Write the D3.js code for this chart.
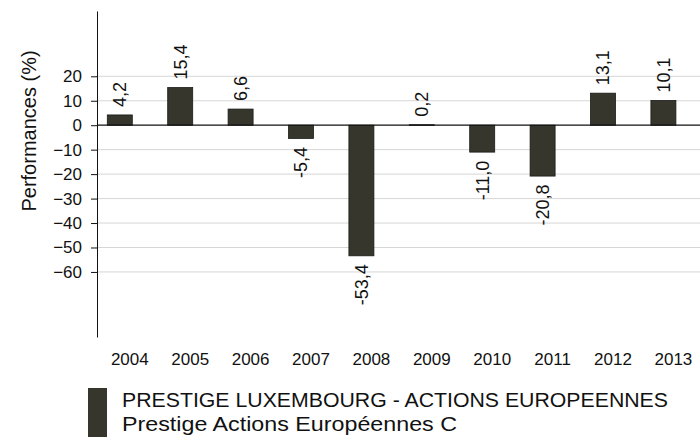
<!DOCTYPE html>
<html lang="fr">
<head>
    <meta charset="UTF-8">
    <title>Performances annuelles</title>
    <style>
        body, html {
            margin: 0;
            overflow: hidden;
            background: #fff;
        }
        svg text {
            font-family: "Liberation Sans", Arial, sans-serif;
            fill: #111;
        }
    </style>
</head>
<body>

<script src="https://d3js.org/d3.v7.min.js"></script>

<script>
    // Data
    const years = ["2004", "2005", "2006", "2007", "2008", "2009", "2010", "2011", "2012", "2013"];
    const perf = [4.2, 15.4, 6.6, -5.4, -53.4, 0.2, -11.0, -20.8, 13.1, 10.1];
    const yTicks = [20, 10, 0, -10, -20, -30, -40, -50, -60];
    const legendLines = ["PRESTIGE LUXEMBOURG - ACTIONS EUROPEENNES", "Prestige Actions Européennes C"];

    const width = 700,
        height = 441;

    const barColor = "#36362d";

    const svg = d3.create("svg")
        .attr("width", width)
        .attr("height", height);

    // Scales
    const x = d3.scaleBand()
        .domain(years)
        .range([89.6, 693.6])
        .paddingInner(0.586)
        .paddingOuter(0.293);

    const y = d3.scaleLinear()
        .domain([-86.6, 46.7])
        .range([337, 11]);

    const fmt = v => v.toFixed(1).replace(".", ",");

    // Gridlines
    svg.append("g")
        .selectAll("line")
        .data(yTicks.filter(d => d !== 0))
        .enter().append("line")
        .attr("x1", 97)
        .attr("x2", width)
        .attr("y1", d => y(d))
        .attr("y2", d => y(d))
        .attr("stroke", "#d6d6d6")
        .attr("stroke-width", 1);

    // Bars
    svg.append("g")
        .selectAll("rect")
        .data(perf)
        .enter().append("rect")
        .attr("x", (d, i) => x(years[i]))
        .attr("width", x.bandwidth())
        .attr("y", d => y(Math.max(0, d)))
        .attr("height", d => Math.max(0.6, Math.abs(y(d) - y(0))))
        .attr("fill", barColor)
        .attr("stroke", "#1a1a16")
        .attr("stroke-width", 0.8);

    // Zero line
    svg.append("line")
        .attr("x1", 97)
        .attr("x2", width)
        .attr("y1", y(0))
        .attr("y2", y(0))
        .attr("stroke", "#111")
        .attr("stroke-width", 1.2);

    // Y axis
    const yAxis = d3.axisLeft(y)
        .tickValues(yTicks)
        .tickFormat(d3.format("d"))
        .tickSize(6)
        .tickSizeOuter(0)
        .tickPadding(9);

    const gy = svg.append("g")
        .attr("transform", "translate(97,0)")
        .call(yAxis);

    gy.select(".domain").attr("stroke", "#111");
    gy.selectAll(".tick line").attr("stroke", "#111");
    gy.selectAll(".tick text")
        .style("font-size", "17px")
        .style("font-family", "'Liberation Sans', Arial, sans-serif")
        .attr("fill", "#111");

    // Y title
    svg.append("text")
        .attr("transform", `translate(36,131) rotate(-90)`)
        .attr("text-anchor", "middle")
        .style("font-size", "20px")
        .text("Performances (%)");

    // Value labels
    svg.append("g")
        .selectAll("text")
        .data(perf)
        .enter().append("text")
        .attr("transform", (d, i) => {
            const cx = x(years[i]) + x.bandwidth() / 2;
            const cy = d >= 0 ? y(d) - 8 : y(d) + 8.5;
            return `translate(${cx},${cy}) rotate(-90)`;
        })
        .attr("dy", "0.35em")
        .attr("text-anchor", d => d >= 0 ? "start" : "end")
        .style("font-size", "18px")
        .text(d => fmt(d));

    // Year labels
    svg.append("g")
        .selectAll("text")
        .data(years)
        .enter().append("text")
        .attr("x", d => x(d) + x.bandwidth() / 2 + 10)
        .attr("y", 365)
        .attr("text-anchor", "middle")
        .style("font-size", "17px")
        .text(d => d);

    // Legend
    svg.append("rect")
        .attr("x", 88)
        .attr("y", 388)
        .attr("width", 19)
        .attr("height", 49)
        .attr("fill", barColor);

    const legendWidths = [546, 335];

    svg.append("g")
        .selectAll("text")
        .data(legendLines)
        .enter().append("text")
        .attr("x", 122)
        .attr("y", (d, i) => 407 + i * 24)
        .attr("textLength", (d, i) => legendWidths[i])
        .attr("lengthAdjust", "spacingAndGlyphs")
        .style("font-size", "20px")
        .text(d => d);

    document.body.appendChild(svg.node());
</script>

</body>
</html>
